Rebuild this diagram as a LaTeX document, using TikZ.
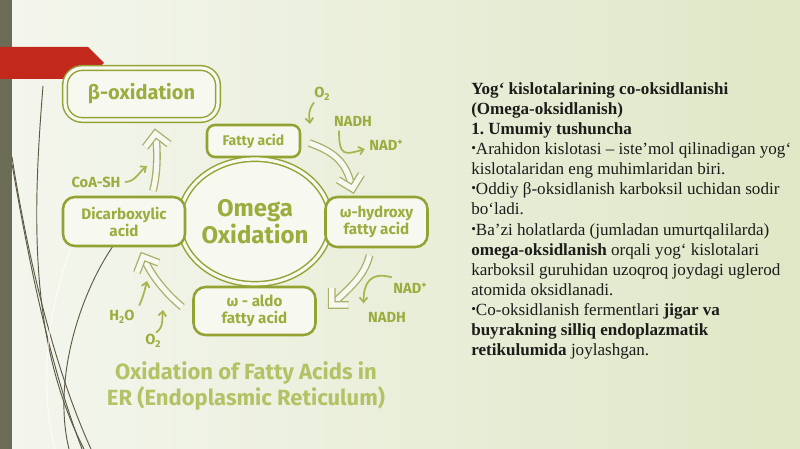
\documentclass[tikz,border=0pt]{standalone}
\usepackage{fontspec}
\setmainfont{Liberation Serif}
\newfontfamily\dg{Fira Sans}
\usetikzlibrary{arrows.meta,shapes.geometric,decorations.markings}
\definecolor{bgl}{HTML}{F4F6EE}
\definecolor{bgr}{HTML}{DFE7C6}
\definecolor{barc}{HTML}{6C6B56}
\definecolor{redc}{HTML}{C2281C}
\definecolor{olv}{HTML}{93A232}
\definecolor{boxf}{HTML}{F7F9F0}
\definecolor{lblc}{HTML}{9CAC3E}
\definecolor{arrc}{HTML}{AAB06A}
\definecolor{smc}{HTML}{A8B450}
\definecolor{ttl}{HTML}{B4C266}
\definecolor{crv}{HTML}{5C5A46}
\definecolor{txtc}{HTML}{1C1C1A}
\newcommand\mybul{\raisebox{.25ex}{\fontsize{10}{10}\selectfont •}}
\begin{document}
\frenchspacing
\begin{tikzpicture}[x=0.75pt,y=-0.75pt,
  lbl/.style={font=\dg\bfseries\fontsize{11.4}{12.8}\selectfont, text=lblc, align=center},
  pbox/.style={draw=olv, line width=1.9pt, fill=boxf, rounded corners=9pt, inner sep=0pt},
  dbox/.style={draw=olv, line width=1.1pt, double=boxf, double distance=2.4pt, fill=boxf, inner sep=0pt},
  hollow/.style={draw=arrc, line width=1pt, double=boxf, double distance=3.8pt,
    postaction={decorate, decoration={markings, mark=at position 1 with {\draw[draw=arrc, line width=1pt, double=boxf, double distance=3.8pt, line join=miter] (-12,12) -- (0,0) -- (-12,-12);}}}},
  thinarr/.style={draw=smc, line width=1.3pt, -{Straight Barb[length=3.5pt,width=6pt]}},
  sml/.style={font=\dg\bfseries\fontsize{11}{12}\selectfont, text=lblc, inner sep=1pt},
  crvline/.style={draw=crv, line width=0.7pt},
]
\fill[left color=bgl, right color=bgr] (0,0) rectangle (800,449);
\useasboundingbox (0,0) rectangle (800,449);
% left bar
\fill[barc] (0,0) rectangle (12,449);
% decorative curves
\draw[crvline] (43,86) .. controls (33,210) and (28,340) .. (84,449);
\draw[crvline] (12,157) .. controls (28,260) and (55,370) .. (91,449);
\draw[crvline] (12,164) .. controls (32,280) and (52,370) .. (82,449);
\draw[crvline] (118,239) .. controls (80,290) and (52,380) .. (69,449);
\draw[white, line width=1pt, opacity=0.6] (70,250) .. controls (45,320) and (40,390) .. (55,449);
% red banner
\fill[redc] (0,47) -- (88,47) -- (104,63) -- (88,79) -- (0,79) -- cycle;
% boxes
\node[dbox, rounded corners=13pt, minimum width=114.75pt, minimum height=39pt, lbl, font=\dg\bfseries\fontsize{15}{16}\selectfont] (beta) at (141.5,94) {β-oxidation};
\node[pbox, rounded corners=6pt, minimum width=69.75pt, minimum height=24pt, lbl, font=\dg\bfseries\fontsize{10.5}{12}\selectfont] (fatty) at (253.5,141) {Fatty acid};
\node[dbox, ellipse, minimum width=100.5pt, minimum height=93.75pt, lbl, font=\dg\bfseries\fontsize{18}{20.5}\selectfont] (omega) at (255,221.5) {Omega\\Oxidation};
\node[pbox, minimum width=76.5pt, minimum height=37.5pt, lbl] (hydroxy) at (376.5,222) {ω-hydroxy\\fatty acid};
\node[pbox, minimum width=91.5pt, minimum height=36.75pt, lbl] (dicarb) at (124,221.5) {Dicarboxylic\\acid};
\node[pbox, minimum width=91.5pt, minimum height=36pt, lbl] (aldo) at (254.5,311) {ω - aldo\\fatty acid};
% main hollow arrows
\draw[hollow] ([shift={(8,2)}]fatty.east) .. controls +(28,10) and +(-6,-25) .. ([shift={(-24,-7)}]hydroxy.north);
\draw[hollow] ([shift={(-7,7)}]hydroxy.south) .. controls +(-5,22) and +(15,-15) .. ([shift={(15,-6)}]aldo.east);
\draw[hollow] ([shift={(-10,-4)}]aldo.west) .. controls +(-18,-15) and +(8,18) .. ([shift={(19,9.5)}]dicarb.south);
\draw[hollow] ([shift={(29,-5)}]dicarb.north) .. controls +(5,-20) and +(2,15) .. ([shift={(14,13)}]beta.south);
% small labels
\node[sml] (o2a) at (322,94) {O\raisebox{-2.5pt}{\fontsize{7.5}{8}\selectfont 2}};
\node[sml] (nadh1) at (353,121) {NADH};
\node[sml] (nad1) at (386,145) {NAD\raisebox{3.5pt}{\fontsize{7.5}{8}\selectfont +}};
\node[sml] (nad2) at (410,288) {NAD\raisebox{3.5pt}{\fontsize{7.5}{8}\selectfont +}};
\node[sml] (nadh2) at (387,317) {NADH};
\node[sml] (h2o) at (122,317) {H\raisebox{-2.5pt}{\fontsize{7.5}{8}\selectfont 2}O};
\node[sml] (o2b) at (153,341) {O\raisebox{-2.5pt}{\fontsize{7.5}{8}\selectfont 2}};
\node[sml] (coash) at (96,182) {CoA-SH};
\coordinate (e1) at (310,124);
\coordinate (e2) at (147,281);
\coordinate (e3) at (163,310);
\coordinate (e4) at (147,166);
% small arrows
\draw[thinarr] ([shift={(-8,0)}]o2a.south) .. controls +(-6,8) and +(-1,-9) .. (e1);
\draw[thinarr] ([shift={(-14,3)}]nadh1.south) .. controls +(0,26) and +(-20,6) .. ([shift={(-3,4)}]nad1.west);
\draw[thinarr] ([shift={(0,-4)}]nad2.north west) .. controls +(-22,-6) and +(0,-20) .. ([shift={(-3,-7)}]nadh2.north west);
\draw[thinarr] ([shift={(3,-3)}]h2o.north east) .. controls +(4,-8) and +(-2,8) .. (e2);
\draw[thinarr] ([shift={(3,0)}]o2b.north) .. controls +(8,-5) and +(-1,8) .. (e3);
\draw[thinarr] ([shift={(3,0)}]coash.east) .. controls +(10,0) and +(-8,6) .. (e4);
% bottom title
\node[font=\dg\bfseries\fontsize{16.5}{19.5}\selectfont, text=ttl, align=center] (title) at (246,386) {Oxidation of Fatty Acids in\\ER (Endoplasmic Reticulum)};
% right text
\node[anchor=north west, inner sep=0pt, align=left, text=txtc, font=\fontsize{12.8}{15.1}\selectfont] (txt) at (471,82) {%
\textbf{Yog‘ kislotalarining co-oksidlanishi}\\
\textbf{(Omega-oksidlanish)}\\
\textbf{1. Umumiy tushuncha}\\
\mybul Arahidon kislotasi – iste’mol qilinadigan yog‘\\
kislotalaridan eng muhimlaridan biri.\\
\mybul Oddiy β-oksidlanish karboksil uchidan sodir\\
bo‘ladi.\\
\mybul Ba’zi holatlarda (jumladan umurtqalilarda)\\
\textbf{omega-oksidlanish} orqali yog‘ kislotalari\\
karboksil guruhidan uzoqroq joydagi uglerod\\
atomida oksidlanadi.\\
\mybul Co-oksidlanish fermentlari \textbf{jigar va}\\
\textbf{buyrakning silliq endoplazmatik}\\
\textbf{retikulumida} joylashgan.};
\end{tikzpicture}
\end{document}
